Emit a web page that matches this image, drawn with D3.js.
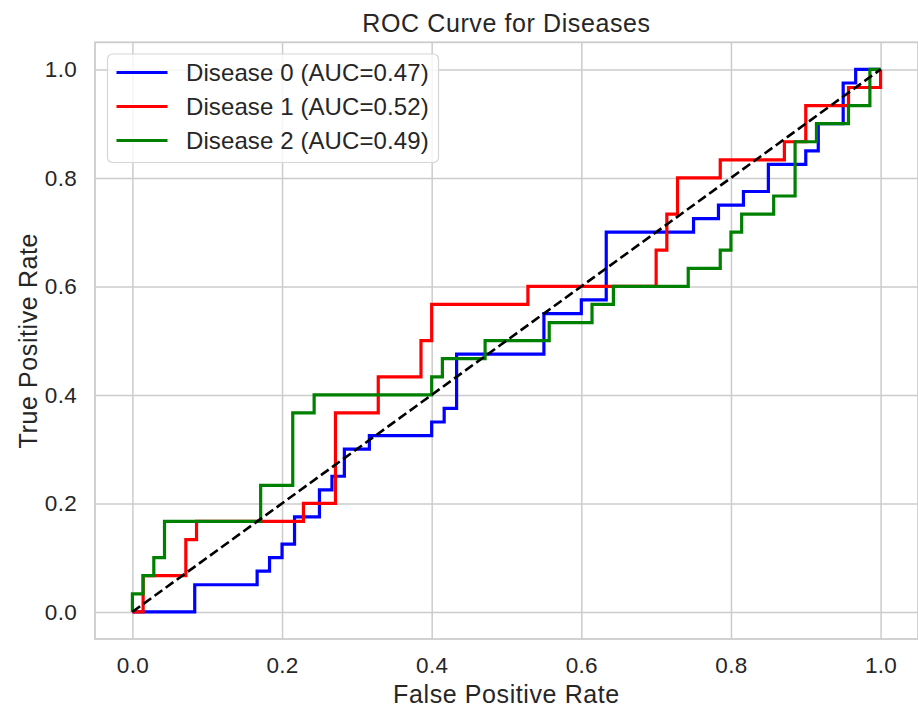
<!DOCTYPE html>
<html>
<head>
<meta charset="utf-8">
<script src="https://cdn.jsdelivr.net/npm/d3@7"></script>
<style>
  body { margin: 0; background: #fff; }
  svg { display: block; font-family: "Liberation Sans", Arial, sans-serif; }
</style>
</head>
<body>
<svg width="918" height="711"></svg>
<script>
// ROC corner points, drawn as steps (right then up)
const fpr0 = [0, 0.0833, 0.1667, 0.1833, 0.2, 0.2167, 0.25, 0.2667, 0.2833, 0.3167, 0.4, 0.4167, 0.4333, 0.55, 0.6, 0.6333, 0.75, 0.7833, 0.8167, 0.85, 0.9, 0.9167, 0.95, 0.9667, 1];
const tpr0 = [0, 0.05, 0.075, 0.1, 0.125, 0.175, 0.225, 0.25, 0.3, 0.325, 0.35, 0.375, 0.475, 0.55, 0.575, 0.7, 0.725, 0.75, 0.775, 0.825, 0.85, 0.9, 0.975, 1, 1];

const fpr1 = [0, 0.0143, 0.0714, 0.0857, 0.2286, 0.2714, 0.3286, 0.3857, 0.4, 0.5286, 0.7, 0.7143, 0.7286, 0.7857, 0.8714, 0.9, 0.9571, 1];
const tpr1 = [0, 0.0667, 0.1333, 0.1667, 0.2, 0.3667, 0.4333, 0.5, 0.5667, 0.6, 0.6667, 0.7333, 0.8, 0.8333, 0.8667, 0.9333, 0.9667, 1];

const fpr2 = [0, 0, 0.0143, 0.0286, 0.0429, 0.1714, 0.2143, 0.2429, 0.4, 0.4143, 0.4714, 0.5571, 0.6143, 0.6429, 0.7429, 0.7857, 0.8, 0.8143, 0.8571, 0.8857, 0.9143, 0.9571, 0.9857, 1];
const tpr2 = [0, 0.0333, 0.0667, 0.1, 0.1667, 0.2333, 0.3667, 0.4, 0.4333, 0.4667, 0.5, 0.5333, 0.5667, 0.6, 0.6333, 0.6667, 0.7, 0.7333, 0.7667, 0.8667, 0.9, 0.9333, 1, 1];

const diseases = ["Disease 0", "Disease 1", "Disease 2"];
const aucs = [0.47, 0.52, 0.49];
const colors = ["#0000ff", "#ff0000", "#008000"];
const ticks = [0, 0.2, 0.4, 0.6, 0.8, 1.0];

const series = [
  { fpr: fpr0, tpr: tpr0 },
  { fpr: fpr1, tpr: tpr1 },
  { fpr: fpr2, tpr: tpr2 },
];

const svg = d3.select("svg");
const textColor = "#262626";
const gridColor = "#cccccc";

const plotLeft = 95, plotRight = 918, plotTop = 42.3, plotBottom = 639;

const x = d3.scaleLinear().domain([-0.05, 1.05]).range([plotLeft, plotRight]);
const y = d3.scaleLinear().domain([-0.05, 1.05]).range([plotBottom, plotTop]);

// grid
const xAxis = svg
  .append("g")
  .attr("transform", `translate(0,${plotBottom})`)
  .call(d3.axisBottom(x).tickValues(ticks).tickFormat(d3.format(".1f")).tickSize(-(plotBottom - plotTop)).tickPadding(13));
const yAxis = svg
  .append("g")
  .attr("transform", `translate(${plotLeft},0)`)
  .call(d3.axisLeft(y).tickValues(ticks).tickFormat(d3.format(".1f")).tickSize(-(plotRight - plotLeft)).tickPadding(18));

[xAxis, yAxis].forEach((g) => {
  g.select(".domain").remove();
  g.selectAll(".tick line").attr("stroke", gridColor).attr("stroke-width", 1.5);
  g.selectAll(".tick text")
    .attr("fill", textColor)
    .style("font-size", "22.5px")
    .style("letter-spacing", "0.3px")
    .style("font-family", '"Liberation Sans", Arial, sans-serif');
});
xAxis.selectAll(".tick text").attr("dy", "0.95em");

// frame
svg
  .append("rect")
  .attr("x", plotLeft)
  .attr("y", plotTop)
  .attr("width", plotRight - plotLeft)
  .attr("height", plotBottom - plotTop)
  .attr("fill", "none")
  .attr("stroke", gridColor)
  .attr("stroke-width", 1.8);

const plot = svg.append("g");

const line = d3
  .line()
  .x((d) => x(d[0]))
  .y((d) => y(d[1]))
  .curve(d3.curveStepAfter);

series.forEach((s, i) => {
  plot
    .append("path")
    .datum(d3.zip(s.fpr, s.tpr))
    .attr("d", line)
    .attr("fill", "none")
    .attr("stroke", colors[i])
    .attr("stroke-width", 3.2)
    .style("stroke-linejoin", "miter");
});

// chance line
plot
  .append("line")
  .attr("x1", x(0))
  .attr("y1", y(0))
  .attr("x2", x(1))
  .attr("y2", y(1))
  .attr("stroke", "#000")
  .attr("stroke-width", 2.6)
  .attr("stroke-dasharray", "9.5,4.2");

// legend
const legend = svg.append("g").attr("transform", "translate(107.5,54)");
legend
  .append("rect")
  .attr("width", 331)
  .attr("height", 108.5)
  .attr("rx", 5)
  .attr("fill", "rgba(255,255,255,0.8)")
  .attr("stroke", "#d6d6d6")
  .attr("stroke-width", 1.2);

diseases.forEach((name, i) => {
  const row = legend.append("g").attr("transform", `translate(0,${18.5 + i * 34})`);
  row
    .append("line")
    .attr("x1", 9)
    .attr("x2", 60)
    .attr("stroke", colors[i])
    .attr("stroke-width", 3.2);
  row
    .append("text")
    .attr("x", 78.5)
    .attr("dy", "0.36em")
    .attr("fill", textColor)
    .style("font-size", "24px")
    .style("letter-spacing", "0.1px")
    .text(`${name} (AUC=${aucs[i].toFixed(2)})`);
});

// titles
svg
  .append("text")
  .attr("x", (plotLeft + plotRight) / 2)
  .attr("y", 31.5)
  .attr("text-anchor", "middle")
  .attr("fill", textColor)
  .style("font-size", "25px")
  .style("letter-spacing", "0.6px")
  .text("ROC Curve for Diseases");

svg
  .append("text")
  .attr("x", (plotLeft + plotRight) / 2)
  .attr("y", 703.3)
  .attr("text-anchor", "middle")
  .attr("fill", textColor)
  .style("font-size", "25px")
  .style("letter-spacing", "0.6px")
  .text("False Positive Rate");

svg
  .append("text")
  .attr("transform", `translate(37,${(plotTop + plotBottom) / 2}) rotate(-90)`)
  .attr("text-anchor", "middle")
  .attr("fill", textColor)
  .style("font-size", "25px")
  .style("letter-spacing", "0.6px")
  .text("True Positive Rate");
</script>
</body>
</html>
